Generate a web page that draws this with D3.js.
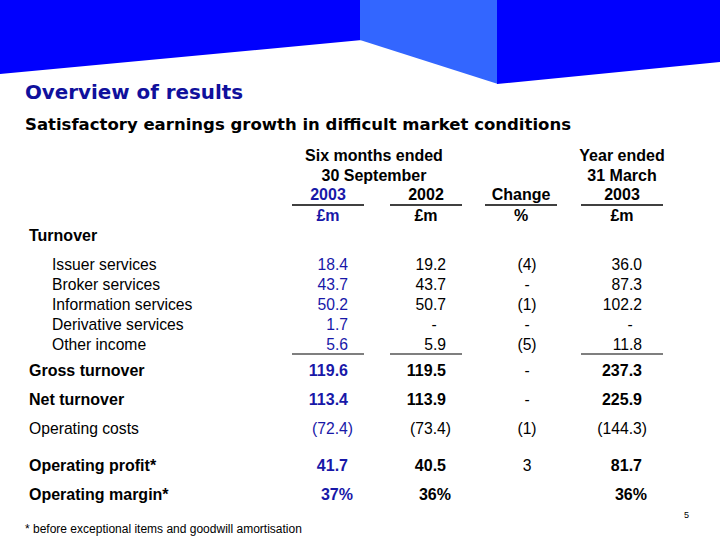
<!DOCTYPE html>
<html>
<head>
<meta charset="utf-8">
<script src="https://cdn.jsdelivr.net/npm/d3@7"></script>
<style>
  html, body { margin: 0; padding: 0; background: #fff; }
  svg { display: block; }
</style>
</head>
<body>
<svg id="chart" width="720" height="540"></svg>
<script>
// ---------- data ----------
const title = "Overview of results";
const subtitle = "Satisfactory earnings growth in difficult market conditions";
const columnKeys = ["h2003", "h2002", "change", "fy2003"];
const columnYears = ["2003", "2002", "Change", "2003"];
const columnUnits = ["£m", "£m", "%", "£m"];
const groupHeaders = [["Six months ended", "30 September"], ["Year ended", "31 March"]];
const sectionLabel = "Turnover";
const rowLabels = ["Issuer services", "Broker services", "Information services", "Derivative services", "Other income",
                   "Gross turnover", "Net turnover", "Operating costs", "Operating profit*", "Operating margin*"];
const h2003 = [18.4, 43.7, 50.2, 1.7, 5.6, 119.6, 113.4, -72.4, 41.7, 37];
const h2002 = [19.2, 43.7, 50.7, null, 5.9, 119.5, 113.9, -73.4, 40.5, 36];
const change = [-4, null, -1, null, -5, null, null, -1, 3, ""];
const fy2003 = [36.0, 87.3, 102.2, null, 11.8, 237.3, 225.9, -144.3, 81.7, 36];
const rowBold = [false, false, false, false, false, true, true, false, true, true];
const rowIndent = [true, true, true, true, true, false, false, false, false, false];
const rowPercent = [false, false, false, false, false, false, false, false, false, true];
const footnote = "* before exceptional items and goodwill amortisation";
const pageNumber = "5";

// ---------- drawing ----------
const svg = d3.select("#chart");
const DARK = "#0000fe", LIGHT = "#3366ff", BLUE = "#1818a8", TITLE = "#10109c";
const FONT = "'Liberation Sans', Arial, sans-serif";
const FS = 15.7, HFS = 16;

// banner
const banner = svg.append("g");
banner.append("path").attr("d", "M0,0 L362,0 L362,40 L0,74 Z").attr("fill", DARK);
banner.append("path").attr("d", "M360,0 L498,0 L498,84 L360,40 Z").attr("fill", LIGHT);
banner.append("path").attr("d", "M497,0 L720,0 L720,62 L497,84 Z").attr("fill", DARK);

svg.append("text").attr("x", 25).attr("y", 99)
  .attr("font-family", "'DejaVu Sans', Verdana, sans-serif").attr("font-size", 19).attr("font-weight", "bold")
  .attr("fill", TITLE).attr("textLength", 218).attr("lengthAdjust", "spacingAndGlyphs")
  .text(title);
svg.append("text").attr("x", 25).attr("y", 130)
  .attr("font-family", "'DejaVu Sans', Verdana, sans-serif").attr("font-size", 16).attr("font-weight", "bold")
  .attr("fill", "#000").attr("textLength", 546).attr("lengthAdjust", "spacingAndGlyphs")
  .text(subtitle);

// column scale (centres)
const x = d3.scalePoint().domain(columnKeys).range([328, 622]);
const halfW = { h2003: 36, h2002: 36, change: 36, fy2003: 41 };
const rightOff = 20;

const tbl = svg.append("g").attr("font-family", FONT);

// group headers
const g1c = (x("h2003") + x("h2002")) / 2 - 3;
[[g1c, groupHeaders[0]], [x("fy2003"), groupHeaders[1]]].forEach(([cx, lines]) => {
  lines.forEach((t, i) => {
    tbl.append("text").attr("x", cx).attr("y", 161 + i * 20).attr("text-anchor", "middle")
      .attr("font-size", HFS).attr("font-weight", "bold").attr("fill", "#000").text(t);
  });
});
columnKeys.forEach((k, i) => {
  const cx = x(k) - (k === "change" ? 3 : 0);
  tbl.append("text").attr("x", cx).attr("y", 200).attr("text-anchor", "middle")
    .attr("font-size", HFS).attr("font-weight", "bold").attr("fill", i === 0 ? BLUE : "#000").text(columnYears[i]);
  tbl.append("line").attr("x1", cx - halfW[k]).attr("x2", cx + halfW[k]).attr("y1", 205).attr("y2", 205)
    .attr("stroke", "#000").attr("stroke-width", 1.5);
  tbl.append("text").attr("x", cx).attr("y", 221).attr("text-anchor", "middle")
    .attr("font-size", HFS).attr("font-weight", "bold").attr("fill", i === 0 ? BLUE : "#000").text(columnUnits[i]);
});

tbl.append("text").attr("x", 29).attr("y", 241).attr("font-size", HFS).attr("font-weight", "bold").text(sectionLabel);

// row positions via cumulative gaps
const rowGaps = [0, 20, 20, 20, 20, 26, 29, 29, 37, 29];
const cum = d3.cumsum(rowGaps);
const y = d3.scaleLinear().domain([0, 1]).range([270, 271]);

const fmtNum = (v, dec) => {
  if (v === "") return "";
  if (v === null) return "-";
  const s = d3.format(dec ? ".1f" : "d")(Math.abs(v));
  return v < 0 ? "(" + s + ")" : s;
};

const series = { h2003, h2002, change, fy2003 };
rowLabels.forEach((lab, r) => {
  const yy = y(cum[r]);
  const fs = rowBold[r] ? HFS : FS;
  tbl.append("text").attr("x", rowIndent[r] ? 52 : 29).attr("y", yy)
    .attr("font-size", fs).attr("font-weight", rowBold[r] ? "bold" : "normal").attr("fill", "#000").text(lab);
  columnKeys.forEach((k, ci) => {
    const v = series[k][r];
    const fill = ci === 0 ? BLUE : "#000";
    let txt, xx;
    if (k === "change") {
      txt = fmtNum(v, false); xx = x(k) + 3;
      tbl.append("text").attr("x", xx).attr("y", yy).attr("text-anchor", "middle")
        .attr("font-size", FS).attr("fill", fill).text(txt);
      return;
    }
    if (v === null) {
      tbl.append("text").attr("x", x(k) + rightOff - 12).attr("y", yy).attr("text-anchor", "middle")
        .attr("font-size", FS).attr("fill", fill).text("-");
      return;
    }
    if (rowPercent[r]) {
      txt = d3.format("d")(v) + "%";
      xx = x(k) + rightOff + 5;
    } else {
      txt = fmtNum(v, true);
      xx = x(k) + rightOff + (v < 0 ? 5 : 0);
    }
    tbl.append("text").attr("x", xx).attr("y", yy).attr("text-anchor", "end")
      .attr("font-size", fs).attr("font-weight", rowBold[r] ? "bold" : "normal").attr("fill", fill).text(txt);
  });
});

// subtotal lines under "Other income"
["h2003", "h2002", "fy2003"].forEach(k => {
  tbl.append("line").attr("x1", x(k) - halfW[k]).attr("x2", x(k) + halfW[k])
    .attr("y1", y(cum[4]) + 4).attr("y2", y(cum[4]) + 4).attr("stroke", "#000").attr("stroke-width", 1.2);
});

svg.append("text").attr("x", 25).attr("y", 533).attr("font-family", FONT).attr("font-size", 12)
  .attr("fill", "#000").text(footnote);
svg.append("text").attr("x", 689).attr("y", 518).attr("font-family", FONT).attr("font-size", 9)
  .attr("text-anchor", "end").attr("fill", "#000").text(pageNumber);
</script>
</body>
</html>
